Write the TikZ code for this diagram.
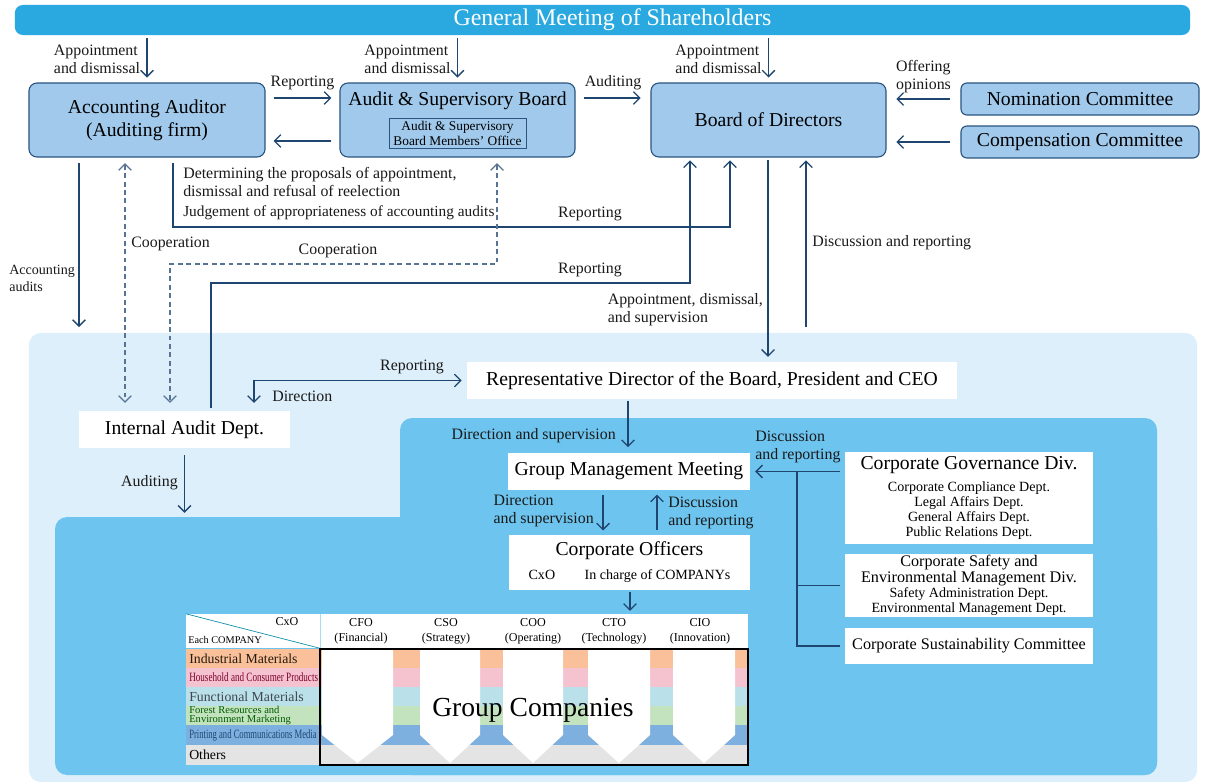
\documentclass[tikz,border=0pt]{standalone}
\usepackage{graphicx}
\usepackage{fontspec}
\setmainfont{Liberation Serif}
\usetikzlibrary{arrows.meta}
\lineskiplimit=-20pt

\definecolor{gmblue}{HTML}{29A9E0}
\definecolor{boxblue}{HTML}{A0C9EC}
\definecolor{boxline}{HTML}{2B557E}
\definecolor{lightbg}{HTML}{DDEFFA}
\definecolor{midbg}{HTML}{6DC5EF}
\definecolor{navy}{HTML}{1F4670}
\definecolor{rowind}{HTML}{F9C09A}
\definecolor{rowhh}{HTML}{F5C3CF}
\definecolor{rowfun}{HTML}{BAE1EA}
\definecolor{rowfor}{HTML}{C3E3BF}
\definecolor{rowprt}{HTML}{7DAFDF}
\definecolor{rowoth}{HTML}{E4E4E4}

\tikzset{
  govbox/.style={draw=boxline, fill=boxblue, rounded corners=0.2cm, line width=0.8pt, inner sep=0pt, align=center, font=\fontsize{14}{16.5}\selectfont},
  orgbox/.style={fill=white, inner sep=0pt, align=center, font=\fontsize{14}{16.5}\selectfont},
  lbl/.style={inner sep=0pt, align=left, text=black!90, font=\fontsize{11.3}{12.8}\selectfont},
  arr/.style={navy, line width=0.9pt, ->, shorten >=3pt, shorten <=3pt},
  coop/.style={arr, <->, draw=navy!75, dash pattern=on 3.5pt off 2.5pt},
  tbl/.style={inner sep=0pt, align=center, font=\fontsize{8.6}{10.6}\selectfont},
  rowlbl/.style={anchor=west, inner sep=0pt, align=left}
}

\begin{document}
\begin{tikzpicture}[x=0.025cm,y=-0.025cm,>={Straight Barb[length=4.5pt,width=9pt]}]
\useasboundingbox (0,0) rectangle (1206,782);

\node[fill=lightbg, rounded corners=0.3cm, minimum width=29.2cm, minimum height=11.225cm, inner sep=0pt] (exec) at (613,557.5) {};
\fill[midbg, rounded corners=0.3cm] (400,418) rectangle (1157,775);
\fill[midbg, rounded corners=0.3cm] (55,517) rectangle (1157,775);
\coordinate (grp) at (55,517);

\node[fill=gmblue, rounded corners=0.2cm, minimum width=29.375cm, minimum height=0.75cm, inner sep=0pt, text=white, font=\fontsize{17}{20}\selectfont] (gm) at (602.5,20) {\hspace*{0.5cm}General Meeting of Shareholders};

\node[govbox, minimum width=5.9cm, minimum height=1.85cm] (acc) at (147,120) {\raisebox{-2pt}{Accounting Auditor}\\\raisebox{-2pt}{(Auditing firm)}};
\node[govbox, minimum width=5.875cm, minimum height=1.85cm] (asb) at (457.5,120) {};
\node[inner sep=0pt, font=\fontsize{14}{16.5}\selectfont] (asbt) at (457.5,101) {Audit \& Supervisory Board};
\node[draw=boxline, line width=0.5pt, minimum width=3.425cm, minimum height=0.75cm, inner sep=0pt, align=center, font=\fontsize{9.5}{10.6}\selectfont] (asbo) at (457.5,133) {Audit \& Supervisory\\Board Members’ Office};
\node[govbox, minimum width=5.875cm, minimum height=1.85cm] (bod) at (768.5,120) {Board of Directors};
\node[govbox, rounded corners=0.15cm, minimum width=5.95cm, minimum height=0.8cm] (nom) at (1080,99) {Nomination Committee};
\node[govbox, rounded corners=0.15cm, minimum width=5.95cm, minimum height=0.8cm] (comp) at (1080,142) {Compensation Committee};

\node[orgbox, minimum width=12.25cm, minimum height=0.925cm] (ceo) at (712,380.5) {Representative Director of the Board, President and CEO};
\node[orgbox, minimum width=5.275cm, minimum height=0.925cm] (iad) at (184.5,429.5) {Internal Audit Dept.};
\node[orgbox, minimum width=6.05cm, minimum height=0.925cm] (gmm) at (629,471.5) {Group Management Meeting};
\node[orgbox, minimum width=6.025cm, minimum height=1.375cm] (co) at (629.5,562.5) {Corporate Officers\\[0.5pt]{\fontsize{10}{12}\selectfont CxO\hspace{2.1em}In charge of COMPANYs}};
\node[orgbox, minimum width=6.2cm, minimum height=2.3cm, font=\fontsize{10}{10.6}\selectfont] (cgd) at (969,498) {{\fontsize{14}{16}\selectfont Corporate Governance Div.}\\[5pt]Corporate Compliance Dept.\\Legal Affairs Dept.\\General Affairs Dept.\\Public Relations Dept.};
\node[orgbox, minimum width=6.2cm, minimum height=1.575cm, font=\fontsize{10}{10.3}\selectfont] (csd) at (969,585.5) {{\fontsize{11.5}{12}\selectfont Corporate Safety and}\\[1pt]{\fontsize{11.5}{12}\selectfont Environmental Management Div.}\\[0.5pt]Safety Administration Dept.\\Environmental Management Dept.};
\node[orgbox, minimum width=6.2cm, minimum height=0.9cm, font=\fontsize{11.5}{13}\selectfont] (csc) at (969,646) {Corporate Sustainability Committee};

\node[fill=white, minimum width=14.05cm, minimum height=0.85cm, inner sep=0pt] (hdr) at (467,631) {};
\draw[midbg!60, line width=0.4pt] (320,0 |- hdr.north) -- (320,0 |- hdr.south);
\draw[navy!60!cyan, line width=0.5pt] (hdr.north west) -- (320,0 |- hdr.south);
\node[tbl] (cxo) at (287,622) {CxO};
\node[rowlbl, font=\fontsize{7.3}{9}\selectfont] (each) at (188,640) {Each COMPANY};
\foreach \x/\a/\b [count=\i] in {361/CFO/Financial,446/CSO/Strategy,533/COO/Operating,614/CTO/Technology,700/CIO/Innovation}
  \node[tbl] (col\i) at (\x,631) {\a\\(\b)};

\foreach \a/\b/\c in {649/668/rowind,668/687/rowhh,687/706/rowfun,706/725/rowfor,725/745/rowprt,745/765/rowoth}
  \fill[\c] (186,\a) rectangle (748,\b);
\foreach \l/\r in {322/393,420/480,503/563,588/650,673/735}
  \fill[white] (\l,649) -- (\r,649) -- (\r,735) -- ({(\l+\r)/2},763) -- (\l,735) -- cycle;
\node[draw=black, line width=1.2pt, minimum width=10.7cm, minimum height=2.9cm, inner sep=0pt] (gc) at (534,707) {};
\node[inner sep=0pt, font=\fontsize{19.6}{23}\selectfont] (gctxt) at (533,710) {Group Companies};

\node[rowlbl, font=\fontsize{9.8}{11}\selectfont, text=black!80!brown] (ind) at (189,658.5) {Industrial Materials};
\node[rowlbl, text=purple!65!black] (hh) at (189,677.5) {\scalebox{0.72}[1]{\fontsize{9}{10}\selectfont Household and Consumer Products}};
\node[rowlbl, font=\fontsize{9.8}{11}\selectfont, text=black!80!cyan] (fun) at (189,696.5) {Functional Materials};
\node[rowlbl, font=\fontsize{7.5}{6.6}\selectfont, text=green!35!black] (forest) at (189,715.5) {Forest Resources and\\Environment Marketing};
\node[rowlbl, text=navy] (prt) at (189,735) {\scalebox{0.68}[1]{\fontsize{9}{10}\selectfont Printing and Communications Media}};
\node[rowlbl, font=\fontsize{9.8}{11}\selectfont] (oth) at (189,755) {Others};

\draw[arr, shorten <=2pt, shorten >=3.5pt] (gm.south -| acc) -- (acc.north) node[lbl, midway, left=4.5pt] (ap1) {Appointment\\and dismissal};
\draw[arr, shorten <=2pt, shorten >=3.5pt] (gm.south -| asb) -- (asb.north) node[lbl, midway, left=4.5pt] (ap2) {Appointment\\and dismissal};
\draw[arr, shorten <=2pt, shorten >=3.5pt] (gm.south -| bod) -- (bod.north) node[lbl, midway, left=4.5pt] (ap3) {Appointment\\and dismissal};

\draw[arr, shorten <=5.7pt, shorten >=5.7pt] ([yshift=0.55cm]acc.east) -- ([yshift=0.55cm]asb.west) node[lbl, midway, above=5pt] (rep1) {Reporting};
\draw[arr, shorten <=5.7pt, shorten >=5.7pt] ([yshift=-0.525cm]asb.west) -- ([yshift=-0.525cm]acc.east);
\draw[arr, shorten <=5.7pt, shorten >=7pt] ([yshift=0.55cm]asb.east) -- ([yshift=0.55cm]bod.west) node[lbl, midway, above=5pt] (aud1) {Auditing};
\draw[arr, shorten <=7.5pt, shorten >=7pt] (nom.west) -- (nom.west -| bod.east) node[lbl, midway, above=4pt] (off) {Offering\\opinions};
\draw[arr, shorten <=7.5pt, shorten >=7pt] (comp.west) -- (comp.west -| bod.east);

\draw[arr, shorten <=4pt, shorten >=4pt] (79,0 |- acc.south) -- (79,0 |- exec.north);
\node[lbl, anchor=west, font=\fontsize{10}{12}\selectfont] (aalbl) at (9,278) {Accounting\\audits};
\draw[coop, shorten <=4pt, shorten >=5.5pt] (125,0 |- acc.south) -- (125,0 |- iad.north);
\node[lbl, anchor=west] (coop1) at (131,244) {Cooperation};

\draw[arr, shorten <=4pt, shorten >=2pt] (173,0 |- acc.south) -- (173,227) -| (730,0 |- bod.south);
\node[lbl, anchor=west] (det) at (183,194) {Determining the proposals of appointment,\\dismissal and refusal of reelection\\[1.4pt]{\fontsize{10.9}{12}\selectfont Judgement of appropriateness of accounting audits}};
\node[lbl] (rep2) at (590,214) {Reporting};

\draw[coop, shorten <=4pt, shorten >=5.5pt] (497,0 |- asb.south) -- (497,264) -| (170,0 |- iad.north);
\node[lbl] (coop2) at (338,251) {Cooperation};

\draw[arr, shorten <=2pt, shorten >=2pt] (211,0 |- iad.north) -- (211,283) -| (690,0 |- bod.south);
\node[lbl] (rep3) at (590,270) {Reporting};

\draw[arr, shorten <=2pt, shorten >=3.5pt] (768,0 |- bod.south) -- (768,0 |- ceo.north);
\node[lbl, anchor=east] (apd) at (763,310) {Appointment, dismissal,\\and supervision};
\draw[arr, shorten <=4pt, shorten >=2pt] (806,0 |- exec.north) -- (806,0 |- bod.south);
\node[lbl, anchor=west] (dr1) at (812,243) {Discussion and reporting};

\draw[arr, <->, shorten <=5.5pt, shorten >=3.5pt] (254,0 |- iad.north) |- (ceo.west);
\node[lbl] (rep4) at (412,367) {Reporting};
\node[lbl, anchor=west] (dir1) at (272,396) {Direction};
\draw[arr, shorten <=5pt, shorten >=3pt] (iad.south) -- (iad.south |- grp);
\node[lbl, anchor=east] (aud2) at (178,483) {Auditing};

\draw[arr, shorten <=1pt, shorten >=4pt] (628,0 |- ceo.south) -- (628,0 |- gmm.north);
\node[lbl, anchor=east] (ds1) at (616,436) {Direction and supervision};
\draw[arr] (603,0 |- gmm.south) -- (603,0 |- co.north);
\node[lbl, anchor=east] (ds2) at (594,511) {Direction\\and supervision};
\draw[arr] (657,0 |- co.north) -- (657,0 |- gmm.south);
\node[lbl, anchor=west] (dr3) at (668,513) {Discussion\\and reporting};
\draw[arr, shorten <=1.5pt, shorten >=2pt] (630,0 |- co.south) -- (630,0 |- hdr.north);

\draw[arr, shorten <=3.5pt, shorten >=3.5pt] (cgd.west |- gmm.east) -- (gmm.east);
\draw[navy, line width=0.9pt, shorten >=3.5pt] (797,0 |- gmm.east) |- (csd.west);
\draw[navy, line width=0.9pt, shorten >=3.5pt] (797,0 |- gmm.east) |- (csc.west);
\node[lbl, anchor=west] (dr2) at (755,447) {Discussion\\and reporting};
\end{tikzpicture}
\end{document}
